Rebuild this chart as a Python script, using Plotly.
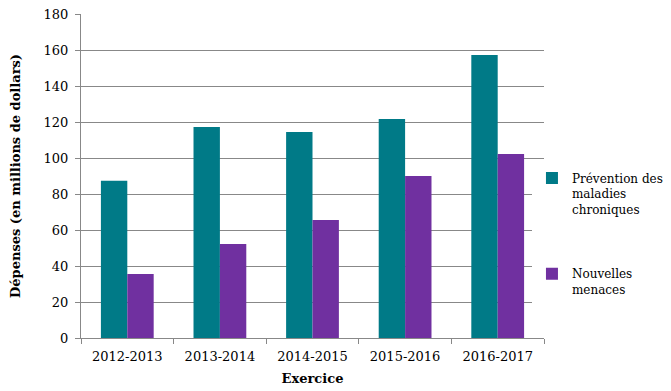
import plotly.graph_objects as go

categories = ["2012-2013", "2013-2014", "2014-2015", "2015-2016", "2016-2017"]
prevention = [87.3, 117.2, 114.5, 121.7, 157.2]
menaces = [35.6, 52.2, 65.6, 90.0, 102.2]
series_names = ["Prévention des<br>maladies<br>chroniques", "Nouvelles<br>menaces"]

font_family = "DejaVu Serif, Liberation Serif, serif"

fig = go.Figure()
fig.add_trace(go.Bar(x=categories, y=prevention, name=series_names[0], legendgroup="g1",
                     marker=dict(color="#007A87", line=dict(width=0))))
fig.add_trace(go.Bar(x=categories, y=menaces, name=series_names[1], legendgroup="g2",
                     marker=dict(color="#7030A0", line=dict(width=0))))

fig.update_layout(
    width=663, height=383,
    margin=dict(l=73, r=127, t=6, b=53, autoexpand=False),
    paper_bgcolor="white", plot_bgcolor="white",
    barmode="group", bargap=0.43, bargroupgap=0,
    font=dict(family=font_family, size=13, color="black"),
    showlegend=True,
    legend=dict(x=0.974, y=0.538, xanchor="left", yanchor="top",
                tracegroupgap=46, font=dict(size=12), itemwidth=30,
                traceorder="grouped", valign="top"),
    xaxis=dict(
        automargin=False,
        showgrid=False, showline=True, linecolor="#888888", linewidth=1,
        ticks="outside", tickson="boundaries", ticklen=5, tickcolor="#888888",
        ticklabelstandoff=6,
        title=dict(text="<b>Exercice</b>", font=dict(size=13), standoff=11),
        tickfont=dict(size=13),
    ),
    yaxis=dict(
        automargin=False, ticklabeloverflow="allow",
        range=[0, 180], dtick=20, showgrid=True, gridcolor="#888888", gridwidth=1,
        showline=True, linecolor="#888888", linewidth=1,
        ticks="outside", ticklen=5, tickcolor="#888888",
        ticklabelstandoff=4,
        zeroline=False,
        title=dict(text="<b>Dépenses (en millions de dollars)</b>", font=dict(size=13), standoff=20),
        tickfont=dict(size=13),
    ),
)

fig.write_html("out.html")
